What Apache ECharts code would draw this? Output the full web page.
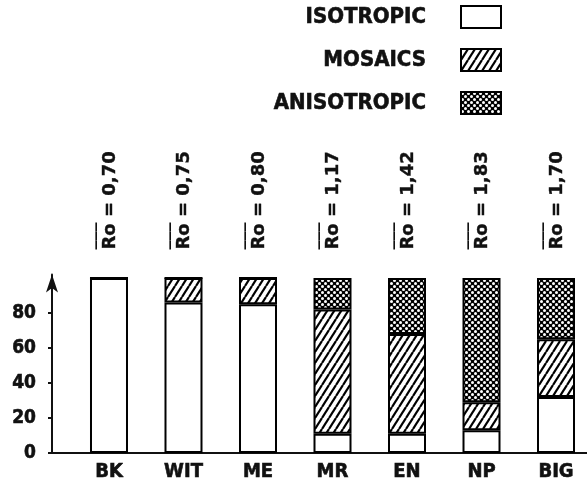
<!DOCTYPE html>
<html>
<head>
<meta charset="utf-8">
<script src="https://cdn.jsdelivr.net/npm/echarts@6/dist/echarts.min.js"></script>
<style>
  html, body { margin: 0; padding: 0; background: #fff; }
  #chart { width: 587px; height: 491px; }
</style>
</head>
<body>
<div id="chart"></div>
<script>
const categories = ['BK', 'WIT', 'ME', 'MR', 'EN', 'NP', 'BIG']
const roValues = ['0,70', '0,75', '0,80', '1,17', '1,42', '1,83', '1,70']
const isotropic = [100, 86, 85, 11, 11, 13, 32]
const mosaics = [0, 14, 15, 71, 57, 16, 33]
const anisotropic = [0, 0, 0, 18, 32, 71, 35]
const yTicks = [0, 20, 40, 60, 80]

const font = '"DejaVu Sans Condensed", "DejaVu Sans", sans-serif'
const ink = '#111'

// hatch "////" for mosaics
function hatchPattern() {
  const w = 7, h = 11
  const c = document.createElement('canvas')
  c.width = w
  c.height = h
  const g = c.getContext('2d')
  g.fillStyle = '#fff'
  g.fillRect(0, 0, w, h)
  g.strokeStyle = '#000'
  g.lineWidth = 2.2
  for (const dx of [-w, 0, w]) {
    g.beginPath()
    g.moveTo(dx, h)
    g.lineTo(dx + w, 0)
    g.stroke()
  }
  return c
}

// black with white dots for anisotropic
function dotPattern() {
  const s = 6
  const c = document.createElement('canvas')
  c.width = s
  c.height = s
  const g = c.getContext('2d')
  g.fillStyle = '#000'
  g.fillRect(0, 0, s, s)
  g.fillStyle = '#fff'
  for (const [x, y] of [[1.5, 1.5], [4.5, 4.5]]) {
    g.beginPath()
    g.arc(x, y, 1.5, 0, Math.PI * 2)
    g.fill()
  }
  return c
}

const idx = categories.map((c, i) => i)
// value first so that the stack runs on y
const toPairs = arr => arr.map((v, i) => [v, i])

const chart = echarts.init(document.getElementById('chart'))

const barItem = { borderColor: '#000', borderWidth: 2 }
const heavy = { fontFamily: font, fontWeight: 'bold', color: ink, textBorderColor: ink, textBorderWidth: 0.6 }

chart.setOption({
  backgroundColor: '#fff',
  animation: false,
  legend: {
    orient: 'vertical',
    right: 85,
    top: 5,
    padding: 0,
    align: 'right',
    icon: 'rect',
    itemWidth: 40,
    itemHeight: 22,
    itemGap: 19,
    textStyle: Object.assign({
      fontSize: 22,
      padding: [0, 30, 0, 0]
    }, heavy),
    data: ['ISOTROPIC', 'MOSAICS', 'ANISOTROPIC']
  },
  grid: {
    left: 52,
    right: 0,
    top: 274.5,
    bottom: 38
  },
  xAxis: [{
    type: 'value',
    position: 'bottom',
    min: -0.765,
    max: 6.416,
    splitLine: { show: false },
    axisLine: { show: true, onZero: false, lineStyle: { color: ink, width: 2 } },
    axisTick: { show: false },
    axisLabel: Object.assign({
      customValues: idx,
      formatter: v => categories[v],
      margin: 9,
      fontSize: 20
    }, heavy)
  }, {
    type: 'value',
    position: 'top',
    min: -0.765,
    max: 6.416,
    splitLine: { show: false },
    axisLine: { show: false, onZero: false },
    axisTick: { show: false },
    axisLabel: {
      customValues: idx,
      formatter: v => '{o|\u203E\u203E\u203E}\n{t|Ro = ' + roValues[v] + '}',
      rotate: -90,
      margin: 25,
      rich: {
        o: { fontFamily: 'DejaVu Sans', fontWeight: 'bold', fontSize: 18, lineHeight: 2, color: ink, align: 'left' },
        t: { fontFamily: 'DejaVu Sans', fontWeight: 'bold', fontSize: 18, lineHeight: 10, color: ink, align: 'left', textBorderColor: ink, textBorderWidth: 0.4 }
      }
    }
  }],
  yAxis: {
    type: 'value',
    min: 0,
    max: 102,
    splitLine: { show: false },
    axisLine: {
      show: true,
      onZero: false,
      symbol: ['none', 'arrow'],
      symbolSize: [9, 18],
      lineStyle: { color: ink, width: 2 }
    },
    axisTick: {
      show: true,
      customValues: yTicks,
      length: 4,
      lineStyle: { color: ink, width: 2 }
    },
    axisLabel: Object.assign({
      customValues: yTicks,
      margin: 16,
      fontSize: 19
    }, heavy)
  },
  series: [{
    name: 'ISOTROPIC',
    data: toPairs(isotropic),
    itemStyle: Object.assign({ color: '#fff' }, barItem)
  }, {
    name: 'MOSAICS',
    data: toPairs(mosaics),
    itemStyle: Object.assign({ color: { image: hatchPattern(), repeat: 'repeat' } }, barItem)
  }, {
    name: 'ANISOTROPIC',
    data: toPairs(anisotropic),
    itemStyle: Object.assign({ color: { image: dotPattern(), repeat: 'repeat' } }, barItem)
  }].map(s => Object.assign({
    type: 'bar',
    stack: 'total',
    barWidth: 38,
    encode: { x: 1, y: 0 }
  }, s))
})
</script>
</body>
</html>
